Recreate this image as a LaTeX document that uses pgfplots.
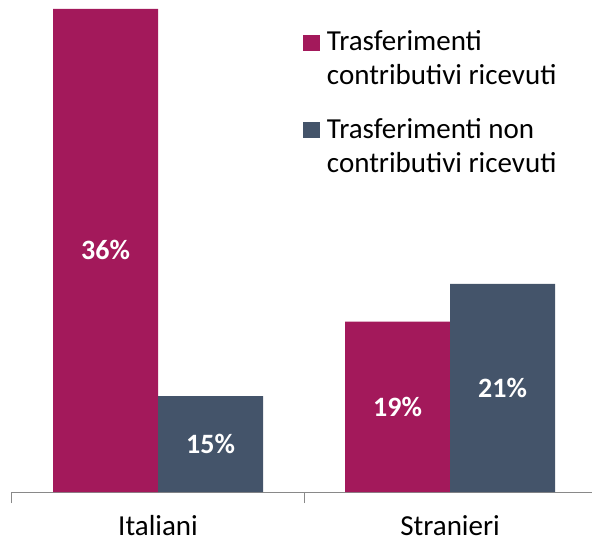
\documentclass[border=0pt]{standalone}
\usepackage{fontspec}
\setmainfont{Carlito}
\usepackage{pgfplots}
\pgfplotsset{compat=1.18}
\definecolor{magbar}{RGB}{163,25,91}
\definecolor{slatebar}{RGB}{68,84,106}
\definecolor{axgray}{RGB}{137,137,137}

\begin{document}
\begin{tikzpicture}
\begin{axis}[
    name=main,
    scale only axis,
    width=580pt, height=492pt,
    xmin=-0.5, xmax=1.486,
    ymin=0, ymax=36.66,
    ybar=0pt, bar width=105pt,
    axis x line*=bottom, axis y line=none,
    axis line style={draw=axgray, line width=1pt},
    xtick={0,1}, xticklabels={Italiani,Stranieri},
    major tick length=0pt,
    extra x ticks={-0.5,0.5},
    extra x tick labels={},
    extra x tick style={major tick length=11pt, tick align=outside, tick style={draw=axgray, line width=1pt}},
    ytick=\empty,
    xticklabel style={font=\fontsize{29}{35}\selectfont, anchor=base, text depth=0pt, yshift=-43pt},
    point meta=explicit symbolic,
    visualization depends on=y \as \rawy,
    nodes near coords,
    every node near coord/.append style={font=\fontsize{28}{32}\selectfont\bfseries, text=white, anchor=center, shift={(axis direction cs:0,-0.5*\rawy)}},
    legend style={at={(0.5017,0.945)}, anchor=north west, draw=none, fill=none,
        inner sep=0pt, outer sep=0pt, font=\fontsize{29}{34}\selectfont,
        row sep=62pt, nodes={inner sep=0pt}, cells={anchor=base west},
        /tikz/every odd column/.append style={column sep=7pt}},
    legend image code/.code={\fill[#1] (0pt,0pt) rectangle (17pt,16pt);},
]
\addplot[fill=magbar, draw=none] coordinates {(0,36) [36\%] (1,12.7) [19\%]};
\addlegendentry{\begin{tabular}[t]{@{}l@{}}Trasferimenti\\contributivi ricevuti\end{tabular}}
\addplot[fill=slatebar, draw=none] coordinates {(0,7.15) [15\%] (1,15.5) [21\%]};
\addlegendentry{\begin{tabular}[t]{@{}l@{}}Trasferimenti non\\contributivi ricevuti\end{tabular}}
\end{axis}
\pgfresetboundingbox
\path ([xshift=-12pt,yshift=-49pt]main.south west) rectangle ++(592pt,541pt);
\end{tikzpicture}
\end{document}
